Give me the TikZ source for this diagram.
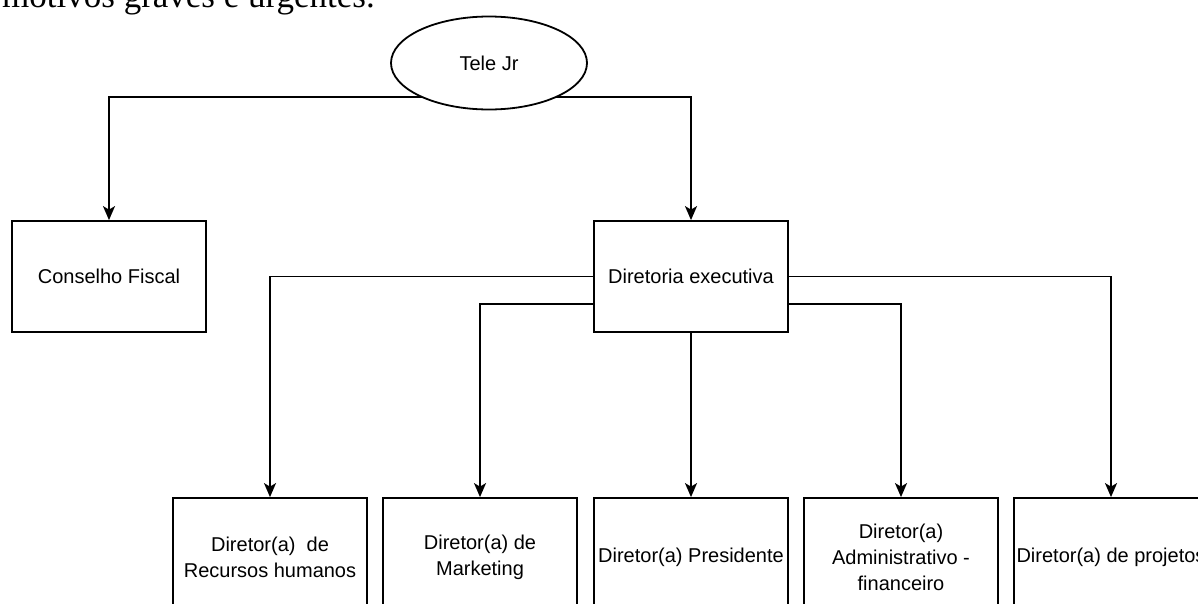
\documentclass[tikz,border=0pt]{standalone}
\usepackage{fontspec}
\setmainfont{Liberation Sans}
\newfontfamily\serifbody{Liberation Serif}
\usetikzlibrary{shapes.geometric,arrows.meta,backgrounds}
\tikzset{
  box/.style={draw, line width=1.8pt, fill=white, minimum width=194pt, inner sep=0pt, align=center, font=\fontsize{20pt}{26pt}\selectfont},
  topbox/.style={box, minimum height=111pt},
  lowbox/.style={box, minimum height=118pt},
  oval/.style={ellipse, draw, line width=1.8pt, fill=white, minimum width=196pt, minimum height=93pt, inner sep=0pt, font=\fontsize{20pt}{26pt}\selectfont},
  link/.style={line width=1.8pt, -{Stealth[length=14pt,width=12pt,inset=3.5pt]}},
}
\begin{document}
\begin{tikzpicture}[x=1pt,y=-1pt]
\useasboundingbox (0,0) rectangle (1198,603);
\clip (0,0) rectangle (1198,603);
\node[anchor=base west, inner sep=0pt, font=\serifbody\fontsize{35pt}{40pt}\selectfont] (head) at (2,7) {motivos graves e urgentes.};
\node[oval] (tele) at (489,63) {Tele Jr};
\node[topbox] (cf) at (109,276.5) {Conselho Fiscal};
\node[topbox] (de) at (691,276.5) {Diretoria executiva};
\node[lowbox] (b1) at (270,557) {Diretor(a)~ de\\Recursos humanos};
\node[lowbox] (b2) at (480,557) {Diretor(a) de\\Marketing};
\node[lowbox] (b3) at (691,557) {Diretor(a) Presidente};
\node[lowbox] (b4) at (901,557) {Diretor(a)\\Administrativo -\\financeiro};
\node[lowbox] (b5) at (1111,557) {Diretor(a) de projetos};
\coordinate (split) at (489,97);
\begin{scope}[on background layer]
\draw[link] (split) -| (cf.north);
\draw[link] (split) -| (de.north);
\end{scope}
\draw[link] (de.west) -| (b1.north);
\draw[link] ([yshift=-27.5pt]de.west) -| (b2.north);
\draw[link] (de.south) -- (b3.north);
\draw[link] ([yshift=-27.5pt]de.east) -| (b4.north);
\draw[link] (de.east) -| (b5.north);
\end{tikzpicture}
\end{document}
